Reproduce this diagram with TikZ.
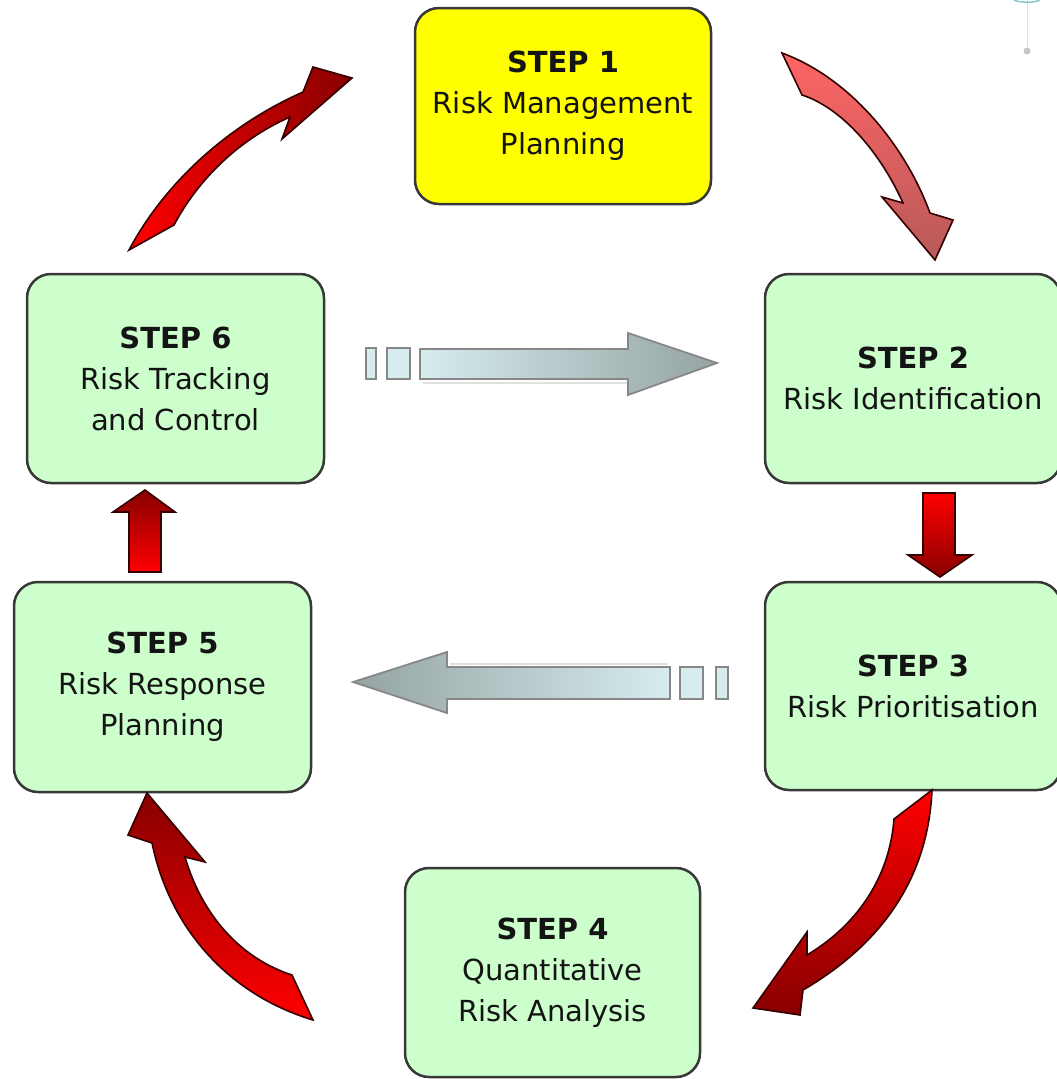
\documentclass[tikz,border=0pt]{standalone}
\usepackage{fontspec}
\setmainfont{DejaVu Sans}
\definecolor{boxgreen}{HTML}{CCFFCC}
\definecolor{boxyellow}{HTML}{FFFF00}
\definecolor{darkred}{HTML}{880000}
\definecolor{brightred}{HTML}{FF0000}
\definecolor{pinkred}{HTML}{FF6464}
\definecolor{dullred}{HTML}{B85A5A}
\definecolor{palecyan}{HTML}{D6ECEE}
\definecolor{slategray}{HTML}{95A3A3}
\begin{document}
\begin{tikzpicture}[x=1pt,y=-1pt,
  box/.style={draw=black!78, line width=2.5pt, rounded corners=24pt, fill=boxgreen,
    align=center, inner sep=0pt, font=\fontsize{29}{41}\selectfont, text=black!92},
  redarrow/.style={draw=black!80!red, line width=1.6pt, line join=miter},
  grayarrow/.style={draw=black!47, line width=1.8pt, line join=miter},
  graybit/.style={draw=black!47, line width=1.8pt, fill=palecyan}]
\useasboundingbox (0,0) rectangle (1057,1079);
\clip (0,0) rectangle (1057,1079);

% boxes
\node[box, fill=boxyellow, minimum width=296pt, minimum height=196pt] (s1) at (563,106)
  {\textbf{STEP 1}\\Risk Management\\Planning};
\node[box, minimum width=296pt, minimum height=209pt] (s2) at (913,378.5)
  {\textbf{STEP 2}\\Risk Identification};
\node[box, minimum width=296pt, minimum height=208pt] (s3) at (913,686)
  {\textbf{STEP 3}\\Risk Prioritisation};
\node[box, minimum width=295pt, minimum height=209pt] (s4) at (552.5,972.5)
  {\textbf{STEP 4}\\Quantitative\\Risk Analysis};
\node[box, minimum width=297pt, minimum height=210pt] (s5) at (162.5,687)
  {\textbf{STEP 5}\\Risk Response\\Planning};
\node[box, minimum width=297pt, minimum height=209pt] (s6) at (175.5,378.5)
  {\textbf{STEP 6}\\Risk Tracking\\and Control};

% curved arrow 6 -> 1
\path[redarrow, left color=brightred, right color=darkred]
  (129,250) .. controls (162,188) and (222,128) .. (303,92)
  -- (313,67) -- (352,78) -- (282,139) -- (290,117)
  .. controls (238,140) and (198,180) .. (174,225)
  -- cycle;

% curved arrow 1 -> 2
\path[redarrow, top color=pinkred, bottom color=dullred]
  (782,53) .. controls (850,78) and (905,145) .. (930,213)
  -- (953,220) -- (935,260) -- (882,197) -- (903,203)
  .. controls (880,152) and (842,108) .. (802,95)
  -- cycle;

% curved arrow 3 -> 4
\path[redarrow, top color=brightred, bottom color=darkred]
  (932,790) .. controls (928,880) and (880,945) .. (803,990)
  -- (800,1015) -- (753,1008) -- (807,932) -- (807,955)
  .. controls (862,922) and (890,872) .. (894,819)
  -- cycle;

% curved arrow 4 -> 5
\path[redarrow, top color=darkred, bottom color=brightred]
  (313,1020) .. controls (230,995) and (170,930) .. (152,843)
  -- (128,835) -- (147,793) -- (205,862) -- (185,857)
  .. controls (202,915) and (240,958) .. (292,975)
  -- cycle;

% straight arrow 2 -> 3
\path[redarrow, top color=brightred, bottom color=darkred]
  (923,493) -- (955,493) -- (955,555) -- (972,555) -- (940,577) -- (908,555) -- (923,555) -- cycle;

% straight arrow 5 -> 6
\path[redarrow, top color=darkred, bottom color=brightred]
  (129,572) -- (161,572) -- (161,512) -- (175,512) -- (145,490) -- (113,512) -- (129,512) -- cycle;

% gray arrow 6 -> 2
\fill[black!12] (423,382) rectangle (632,384);
\draw[graybit] (366,348) rectangle (376,379);
\draw[graybit] (387,348) rectangle (410,379);
\path[grayarrow, left color=palecyan, right color=slategray]
  (420,349) -- (628,349) -- (628,333) -- (717,363) -- (628,395) -- (628,379) -- (420,379) -- cycle;

% gray arrow 3 -> 5
\fill[black!12] (450,663) rectangle (668,665);
\draw[graybit] (716,667) rectangle (728,699);
\draw[graybit] (680,667) rectangle (703,699);
\path[grayarrow, left color=slategray, right color=palecyan]
  (670,667) -- (447,667) -- (447,652) -- (353,682) -- (447,713) -- (447,699) -- (670,699) -- cycle;

% faint element at top right
\draw[gray!25, line width=1pt] (1027,0) -- (1027,50);
\fill[gray!45] (1027,51) circle (3.5pt);
\draw[teal!45, line width=1.5pt] (1014,0) .. controls (1020,3) and (1034,3) .. (1040,0);
\end{tikzpicture}
\end{document}
